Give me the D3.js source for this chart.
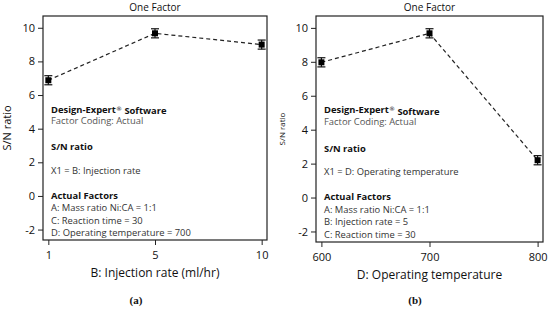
<!DOCTYPE html>
<html>
<head>
<meta charset="utf-8">
<script src="https://cdn.jsdelivr.net/npm/d3@7"></script>
<style>
  body { margin: 0; background: #fff; }
  svg text { font-family: "Open Sans", "Noto Sans", sans-serif; fill: #111; }
  .axis path, .axis line { stroke: #222; }
  .axis text { font-size: 11px; fill: #111; }
</style>
</head>
<body>
<svg id="chart" width="550" height="318"></svg>
<script>
// panel (a)
var injectionLevels = ["1", "5", "10"];
var injectionSN = [6.88, 9.67, 9.0];
var injectionErr = [0.27, 0.27, 0.27];
var notesA = ["X1 = B: Injection rate", "A: Mass ratio Ni:CA = 1:1", "C: Reaction time = 30", "D: Operating temperature = 700"];

// panel (b)
var temperatureLevels = ["600", "700", "800"];
var temperatureSN = [7.97, 9.68, 2.2];
var temperatureErr = [0.27, 0.27, 0.27];
var notesB = ["X1 = D: Operating temperature", "A: Mass ratio Ni:CA = 1:1", "B: Injection rate = 5", "C: Reaction time = 30"];

var yTicks = [-2, 0, 2, 4, 6, 8, 10];

var svg = d3.select("#chart");

function drawPanel(opts) {
    var w = opts.width, h = opts.height;
    var g = svg.append("g").attr("transform", "translate(" + opts.left + "," + opts.top + ")");

    var x = d3.scalePoint().domain(opts.levels).range([0, w]).padding(0.05);
    var y = d3.scaleLinear().domain([-2.62, 10.7]).range([h, 0]);

    g.append("g")
        .attr("class", "axis")
        .call(d3.axisLeft(y).tickValues(yTicks).tickSize(5).tickPadding(3)
            .tickFormat(function (d) { return String(d); }))
        .call(function (s) { s.select(".domain").remove(); });
    g.append("g")
        .attr("class", "axis")
        .attr("transform", "translate(0," + h + ")")
        .call(d3.axisBottom(x).tickSize(5).tickPadding(6))
        .call(function (s) { s.select(".domain").remove(); });

    g.append("rect")
        .attr("width", w).attr("height", h)
        .attr("fill", "none").attr("stroke", "#222").attr("stroke-width", 1.2);

    var data = opts.levels.map(function (l, i) {
        return {label: l, value: opts.values[i], err: opts.errs[i]};
    });

    // annotation block
    var ax = 8;
    var lines = [
        {t: "Design-Expert", y: y(5.15), bold: true, reg: true},
        {t: "Factor Coding: Actual", y: y(4.45), color: "#555"},
        {t: "S/N ratio", y: y(2.9), bold: true},
        {t: opts.notes[0], y: y(1.5)},
        {t: "Actual Factors", y: y(0.02), bold: true},
        {t: opts.notes[1], y: y(-0.72)},
        {t: opts.notes[2], y: y(-1.45)},
        {t: opts.notes[3], y: y(-2.2)}
    ];
    var notes = g.selectAll(".note").data(lines).enter().append("text")
        .attr("class", "note")
        .attr("x", ax).attr("y", function (d) { return d.y; })
        .attr("dy", "0.35em")
        .style("font-size", "9.4px")
        .style("font-weight", function (d) { return d.bold ? "bold" : "normal"; })
        .style("fill", function (d) { return d.color || (d.bold ? "#111" : "#333"); });
    notes.append("tspan").text(function (d) { return d.t; });
    notes.filter(function (d) { return d.reg; }).each(function () {
        var t = d3.select(this);
        t.append("tspan")
            .attr("dy", "-0.35em")
            .style("font-family", "'DejaVu Sans', sans-serif")
            .style("font-size", "6px")
            .style("font-weight", "normal")
            .text("\u00ae");
        t.append("tspan")
            .attr("dy", "0.35em")
            .text(" Software");
    });

    var line = d3.line()
        .x(function (d) { return x(d.label); })
        .y(function (d) { return y(d.value); });
    g.append("path").datum(data)
        .attr("d", line)
        .attr("fill", "none").attr("stroke", "#222")
        .attr("stroke-width", 1.2).attr("stroke-dasharray", "4,3");

    var eb = g.selectAll(".eb").data(data).enter().append("g").attr("class", "eb");
    eb.append("line")
        .attr("x1", function (d) { return x(d.label); })
        .attr("x2", function (d) { return x(d.label); })
        .attr("y1", function (d) { return y(d.value + d.err); })
        .attr("y2", function (d) { return y(d.value - d.err); })
        .attr("stroke", "#111").attr("stroke-width", 1.2);
    [1, -1].forEach(function (sgn) {
        eb.append("line")
            .attr("x1", function (d) { return x(d.label) - 4; })
            .attr("x2", function (d) { return x(d.label) + 4; })
            .attr("y1", function (d) { return y(d.value + sgn * d.err); })
            .attr("y2", function (d) { return y(d.value + sgn * d.err); })
            .attr("stroke", "#111").attr("stroke-width", 1.2);
    });
    eb.append("rect")
        .attr("x", function (d) { return x(d.label) - 3; })
        .attr("y", function (d) { return y(d.value) - 3; })
        .attr("width", 6).attr("height", 6)
        .attr("fill", "#000");

    // title
    g.append("text")
        .attr("x", w / 2).attr("y", -5)
        .attr("text-anchor", "middle")
        .style("font-size", "10px")
        .text("One Factor");

    // y label
    g.append("text")
        .attr("transform", "translate(" + opts.yLabelX + "," + (h / 2) + ") rotate(-90)")
        .attr("text-anchor", "middle")
        .style("font-size", opts.yLabelSize)
        .text("S/N ratio");

    // x label
    g.append("text")
        .attr("x", w / 2).attr("y", h + 37)
        .attr("text-anchor", "middle")
        .style("font-size", "12px")
        .text(opts.xLabel);

    // panel letter
    svg.append("text")
        .attr("x", opts.letterX).attr("y", 304)
        .attr("text-anchor", "middle")
        .style("font-family", "'Liberation Serif', 'DejaVu Serif', serif")
        .style("font-weight", "bold")
        .style("font-size", "11px")
        .text(opts.letter);
}

drawPanel({
    left: 43, top: 16, width: 224, height: 224,
    levels: injectionLevels, values: injectionSN, errs: injectionErr, notes: notesA,
    xLabel: "B: Injection rate (ml/hr)", yLabelX: -32, yLabelSize: "11px",
    letter: "(a)", letterX: 136
});
drawPanel({
    left: 316, top: 16, width: 227, height: 226,
    levels: temperatureLevels, values: temperatureSN, errs: temperatureErr, notes: notesB,
    xLabel: "D: Operating temperature", yLabelX: -31, yLabelSize: "8px",
    letter: "(b)", letterX: 415
});
</script>
</body>
</html>
